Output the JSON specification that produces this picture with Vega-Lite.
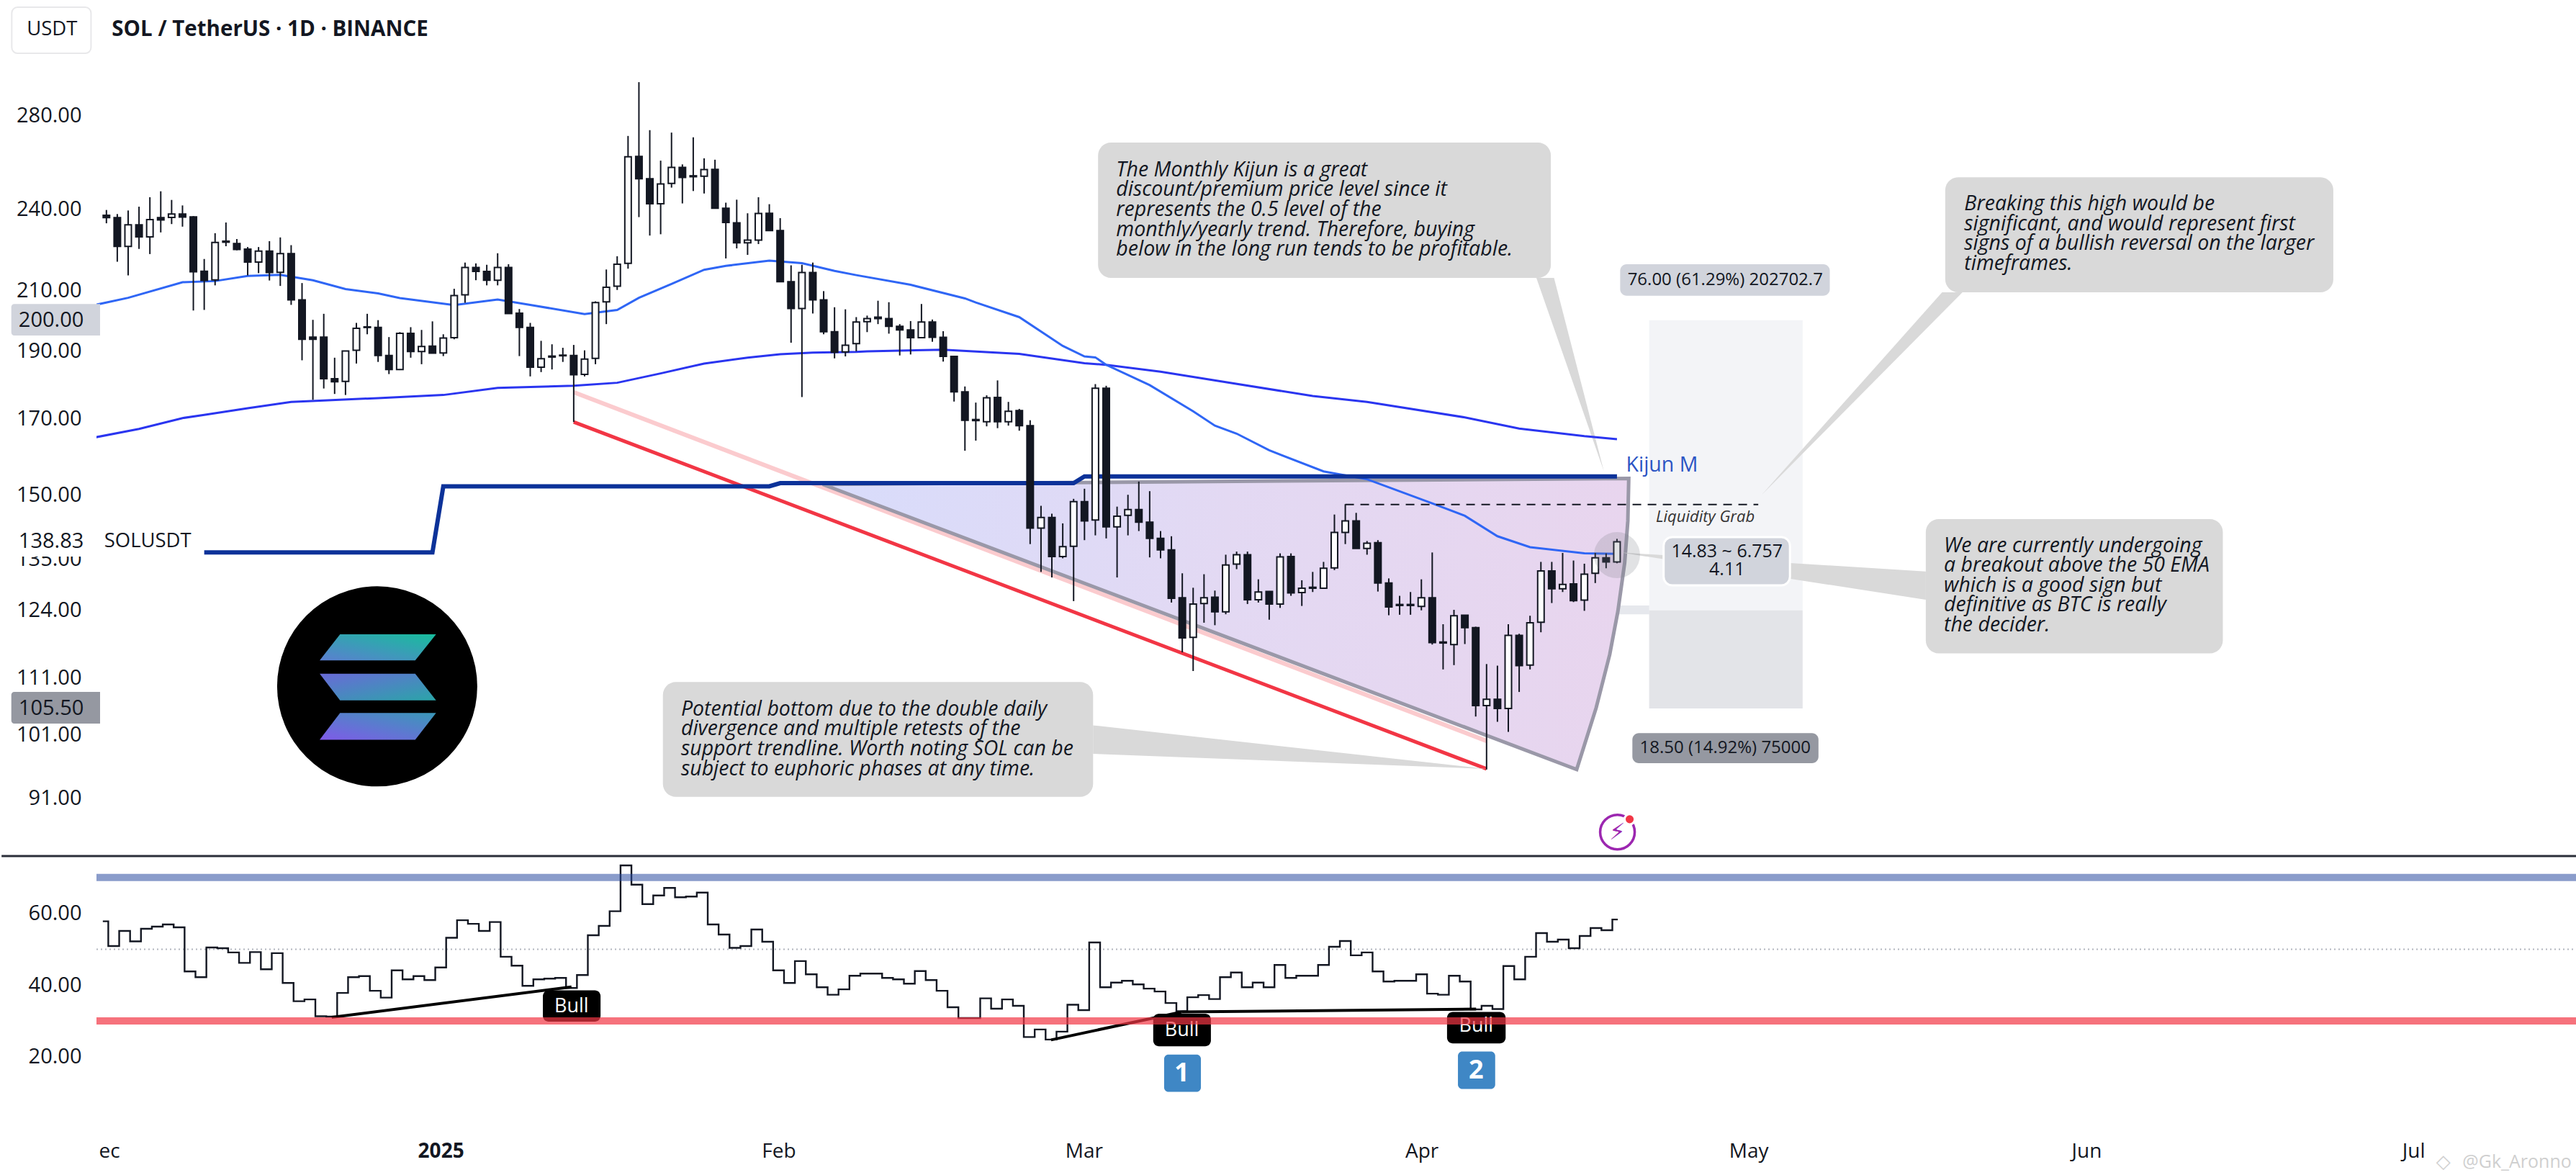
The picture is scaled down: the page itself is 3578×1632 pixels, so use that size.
{"$schema":"https://vega.github.io/schema/vega-lite/v6.json","padding":0,"spacing":0,"background":"white","config":{"view":{"stroke":null},"text":{"font":"Open Sans","color":"#131722"},"axis":{"labelFont":"Open Sans","labelColor":"#131722"}},
"datasets":{
"candles":[
{"d":"2024-12-01","o":237.7,"p":239.8,"p2":234.6,"c":236.8},{"d":"2024-12-02","o":236.8,"p":238.2,"p2":220.2,"c":225.8},{"d":"2024-12-03","o":225.8,"p":239.6,"p2":215.3,"c":234.0},{"d":"2024-12-04","o":234.0,"p":241.1,"p2":224.9,"c":229.4},{"d":"2024-12-05","o":229.4,"p":244.9,"p2":223.0,"c":236.0},{"d":"2024-12-06","o":236.8,"p":247.3,"p2":231.1,"c":235.9},{"d":"2024-12-07","o":236.9,"p":243.8,"p2":234.3,"c":238.2},{"d":"2024-12-08","o":238.2,"p":241.6,"p2":233.3,"c":237.0},{"d":"2024-12-09","o":237.1,"p":237.4,"p2":203.2,"c":216.6},{"d":"2024-12-10","o":216.8,"p":221.2,"p2":203.4,"c":213.5},
{"d":"2024-12-11","o":213.7,"p":230.8,"p2":211.8,"c":227.3},{"d":"2024-12-12","o":227.8,"p":234.9,"p2":225.9,"c":227.4},{"d":"2024-12-13","o":226.9,"p":228.6,"p2":224.4,"c":224.7},{"d":"2024-12-14","o":224.8,"p":225.6,"p2":215.3,"c":220.1},{"d":"2024-12-15","o":220.1,"p":225.6,"p2":216.1,"c":224.1},{"d":"2024-12-16","o":224.1,"p":227.8,"p2":213.5,"c":216.3},{"d":"2024-12-17","o":216.4,"p":229.2,"p2":211.6,"c":223.2},{"d":"2024-12-18","o":223.2,"p":226.3,"p2":205.1,"c":206.8},{"d":"2024-12-19","o":206.8,"p":212.6,"p2":187.2,"c":193.8},{"d":"2024-12-20","o":194.5,"p":200.1,"p2":175.4,"c":193.8},
{"d":"2024-12-21","o":194.5,"p":202.1,"p2":178.7,"c":181.6},{"d":"2024-12-22","o":181.6,"p":188.0,"p2":177.1,"c":180.7},{"d":"2024-12-23","o":180.8,"p":190.2,"p2":176.8,"c":190.1},{"d":"2024-12-24","o":190.3,"p":199.1,"p2":186.2,"c":197.3},{"d":"2024-12-25","o":197.8,"p":202.1,"p2":195.4,"c":197.6},{"d":"2024-12-26","o":197.6,"p":200.0,"p2":186.7,"c":188.7},{"d":"2024-12-27","o":188.7,"p":194.5,"p2":183.0,"c":184.4},{"d":"2024-12-28","o":184.4,"p":196.1,"p2":184.2,"c":195.7},{"d":"2024-12-29","o":195.7,"p":197.7,"p2":188.0,"c":189.9},{"d":"2024-12-30","o":189.9,"p":196.8,"p2":186.0,"c":191.5},{"d":"2024-12-31","o":191.6,"p":199.6,"p2":189.4,"c":189.4},
{"d":"2025-01-01","o":189.5,"p":195.4,"p2":188.5,"c":194.2},{"d":"2025-01-02","o":194.3,"p":210.6,"p2":193.8,"c":208.3},{"d":"2025-01-03","o":208.5,"p":219.9,"p2":205.8,"c":218.1},{"d":"2025-01-04","o":218.1,"p":219.6,"p2":213.6,"c":216.7},{"d":"2025-01-05","o":216.7,"p":219.1,"p2":211.8,"c":213.6},{"d":"2025-01-06","o":213.6,"p":223.3,"p2":211.8,"c":218.1},{"d":"2025-01-07","o":218.1,"p":219.3,"p2":202.1,"c":202.2},{"d":"2025-01-08","o":202.3,"p":203.7,"p2":188.5,"c":197.6},{"d":"2025-01-09","o":197.6,"p":199.1,"p2":182.3,"c":185.1},{"d":"2025-01-10","o":185.1,"p":193.3,"p2":183.6,"c":187.7},
{"d":"2025-01-11","o":188.2,"p":192.2,"p2":184.4,"c":188.5},{"d":"2025-01-12","o":188.8,"p":191.1,"p2":186.7,"c":188.6},{"d":"2025-01-13","o":188.7,"p":192.0,"p2":169.1,"c":182.8},{"d":"2025-01-14","o":182.9,"p":190.3,"p2":182.3,"c":187.6},{"d":"2025-01-15","o":187.8,"p":206.3,"p2":186.0,"c":205.9},{"d":"2025-01-16","o":206.1,"p":217.4,"p2":198.7,"c":211.1},{"d":"2025-01-17","o":211.5,"p":222.2,"p2":210.2,"c":219.3},{"d":"2025-01-18","o":219.6,"p":270.9,"p2":217.7,"c":261.8},{"d":"2025-01-19","o":261.9,"p":296.0,"p2":237.0,"c":252.5},{"d":"2025-01-20","o":252.5,"p":273.5,"p2":229.9,"c":242.3},
{"d":"2025-01-21","o":242.3,"p":260.1,"p2":230.4,"c":250.3},{"d":"2025-01-22","o":250.5,"p":272.4,"p2":248.8,"c":257.2},{"d":"2025-01-23","o":257.2,"p":258.5,"p2":242.4,"c":253.0},{"d":"2025-01-24","o":253.7,"p":270.3,"p2":247.4,"c":253.3},{"d":"2025-01-25","o":253.5,"p":261.1,"p2":246.4,"c":256.3},{"d":"2025-01-26","o":256.4,"p":260.5,"p2":240.4,"c":240.5},{"d":"2025-01-27","o":240.5,"p":242.7,"p2":221.4,"c":234.9},{"d":"2025-01-28","o":234.8,"p":243.9,"p2":225.1,"c":227.2},{"d":"2025-01-29","o":227.2,"p":238.5,"p2":222.7,"c":228.2},{"d":"2025-01-30","o":228.2,"p":244.9,"p2":226.7,"c":238.4},{"d":"2025-01-31","o":238.5,"p":242.1,"p2":231.8,"c":231.8},
{"d":"2025-02-01","o":231.8,"p":236.6,"p2":213.1,"c":213.1},{"d":"2025-02-02","o":213.1,"p":218.9,"p2":192.7,"c":203.9},{"d":"2025-02-03","o":203.9,"p":219.1,"p2":176.2,"c":216.3},{"d":"2025-02-04","o":216.3,"p":219.9,"p2":202.2,"c":206.8},{"d":"2025-02-05","o":206.8,"p":209.8,"p2":195.4,"c":196.2},{"d":"2025-02-06","o":196.2,"p":204.3,"p2":187.8,"c":189.7},{"d":"2025-02-07","o":189.8,"p":203.6,"p2":188.4,"c":191.9},{"d":"2025-02-08","o":192.4,"p":201.0,"p2":190.0,"c":199.4},{"d":"2025-02-09","o":199.5,"p":201.5,"p2":196.1,"c":200.5},{"d":"2025-02-10","o":201.0,"p":206.5,"p2":198.7,"c":200.5},
{"d":"2025-02-11","o":200.5,"p":206.0,"p2":195.6,"c":198.0},{"d":"2025-02-12","o":198.0,"p":198.7,"p2":188.7,"c":196.8},{"d":"2025-02-13","o":196.8,"p":199.7,"p2":189.0,"c":194.3},{"d":"2025-02-14","o":194.3,"p":205.4,"p2":194.3,"c":199.4},{"d":"2025-02-15","o":199.4,"p":200.2,"p2":193.0,"c":194.4},{"d":"2025-02-16","o":194.4,"p":196.4,"p2":186.8,"c":188.4},{"d":"2025-02-17","o":188.4,"p":188.4,"p2":174.9,"c":177.7},{"d":"2025-02-18","o":177.7,"p":179.3,"p2":161.3,"c":169.6},{"d":"2025-02-19","o":169.8,"p":174.6,"p2":164.0,"c":169.5},{"d":"2025-02-20","o":169.2,"p":176.7,"p2":167.9,"c":176.0},
{"d":"2025-02-21","o":176.1,"p":181.1,"p2":167.4,"c":169.2},{"d":"2025-02-22","o":169.2,"p":174.8,"p2":168.1,"c":172.1},{"d":"2025-02-23","o":172.3,"p":172.8,"p2":166.7,"c":168.1},{"d":"2025-02-24","o":168.1,"p":169.6,"p2":138.3,"c":142.0},{"d":"2025-02-25","o":142.0,"p":147.3,"p2":132.1,"c":144.5},{"d":"2025-02-26","o":144.5,"p":145.4,"p2":130.9,"c":135.5},{"d":"2025-02-27","o":135.5,"p":143.1,"p2":135.1,"c":137.7},{"d":"2025-02-28","o":137.8,"p":149.0,"p2":125.9,"c":148.3},
{"d":"2025-03-01","o":148.3,"p":151.5,"p2":139.2,"c":143.7},{"d":"2025-03-02","o":143.9,"p":180.0,"p2":140.3,"c":178.8},{"d":"2025-03-03","o":178.8,"p":179.5,"p2":139.6,"c":142.3},{"d":"2025-03-04","o":142.3,"p":147.1,"p2":130.9,"c":144.8},{"d":"2025-03-05","o":145.0,"p":150.0,"p2":140.3,"c":146.4},{"d":"2025-03-06","o":146.4,"p":153.3,"p2":141.3,"c":143.4},{"d":"2025-03-07","o":143.4,"p":150.9,"p2":135.3,"c":139.6},{"d":"2025-03-08","o":139.6,"p":141.3,"p2":135.1,"c":137.0},{"d":"2025-03-09","o":137.0,"p":140.1,"p2":125.6,"c":126.5},{"d":"2025-03-10","o":126.6,"p":131.8,"p2":115.7,"c":118.5},
{"d":"2025-03-11","o":118.6,"p":128.7,"p2":112.2,"c":125.3},{"d":"2025-03-12","o":125.4,"p":131.6,"p2":121.5,"c":126.6},{"d":"2025-03-13","o":126.7,"p":128.1,"p2":121.0,"c":123.7},{"d":"2025-03-14","o":123.7,"p":135.9,"p2":123.2,"c":133.6},{"d":"2025-03-15","o":133.8,"p":136.6,"p2":132.7,"c":135.9},{"d":"2025-03-16","o":135.9,"p":136.6,"p2":125.3,"c":126.2},{"d":"2025-03-17","o":126.2,"p":130.5,"p2":125.6,"c":127.8},{"d":"2025-03-18","o":127.9,"p":128.0,"p2":122.1,"c":125.3},{"d":"2025-03-19","o":125.3,"p":136.2,"p2":124.5,"c":135.4},{"d":"2025-03-20","o":135.5,"p":136.2,"p2":127.0,"c":127.6},
{"d":"2025-03-21","o":127.7,"p":130.3,"p2":124.9,"c":128.6},{"d":"2025-03-22","o":128.8,"p":132.1,"p2":127.8,"c":128.6},{"d":"2025-03-23","o":128.6,"p":134.3,"p2":128.5,"c":132.9},{"d":"2025-03-24","o":133.0,"p":145.2,"p2":132.5,"c":141.0},{"d":"2025-03-25","o":141.0,"p":147.7,"p2":138.3,"c":143.7},{"d":"2025-03-26","o":143.7,"p":145.6,"p2":137.3,"c":137.3},{"d":"2025-03-27","o":137.3,"p":139.0,"p2":135.9,"c":138.5},{"d":"2025-03-28","o":138.6,"p":139.2,"p2":127.9,"c":129.7},{"d":"2025-03-29","o":129.7,"p":130.7,"p2":123.0,"c":124.7},{"d":"2025-03-30","o":125.2,"p":127.0,"p2":123.1,"c":125.0},{"d":"2025-03-31","o":125.0,"p":127.8,"p2":123.1,"c":125.2},
{"d":"2025-04-01","o":124.8,"p":130.5,"p2":124.0,"c":126.6},{"d":"2025-04-02","o":126.6,"p":136.4,"p2":117.2,"c":117.6},{"d":"2025-04-03","o":117.7,"p":121.2,"p2":112.5,"c":117.5},{"d":"2025-04-04","o":117.2,"p":124.1,"p2":113.3,"c":122.9},{"d":"2025-04-05","o":123.0,"p":123.0,"p2":117.3,"c":120.5},{"d":"2025-04-06","o":120.5,"p":120.7,"p2":104.1,"c":106.0},{"d":"2025-04-07","o":106.0,"p":113.5,"p2":95.4,"c":107.1},{"d":"2025-04-08","o":107.1,"p":113.2,"p2":103.2,"c":105.5},{"d":"2025-04-09","o":105.5,"p":121.2,"p2":101.5,"c":119.0},{"d":"2025-04-10","o":119.0,"p":119.3,"p2":108.4,"c":113.2},
{"d":"2025-04-11","o":113.3,"p":122.9,"p2":112.5,"c":121.5},{"d":"2025-04-12","o":121.6,"p":134.3,"p2":119.6,"c":132.3},{"d":"2025-04-13","o":132.3,"p":134.3,"p2":125.5,"c":128.5},{"d":"2025-04-14","o":128.5,"p":136.3,"p2":127.8,"c":129.4},{"d":"2025-04-15","o":129.5,"p":134.6,"p2":125.7,"c":126.0},{"d":"2025-04-16","o":126.1,"p":133.9,"p2":123.9,"c":131.6},{"d":"2025-04-17","o":131.8,"p":136.3,"p2":129.7,"c":135.2},{"d":"2025-04-18","o":135.2,"p":136.2,"p2":132.9,"c":134.3},{"d":"2025-04-19","o":134.3,"p":139.5,"p2":134.0,"c":138.83}],
"ema50":[{"d":"2024-11-30","p":205.1},{"d":"2024-12-03","p":207.5},{"d":"2024-12-08","p":212.9},{"d":"2024-12-11","p":213.3},{"d":"2024-12-14","p":215.1},{"d":"2024-12-17","p":215.5},{"d":"2024-12-20","p":213.6},{"d":"2024-12-23","p":210.5},{"d":"2024-12-26","p":209.0},{"d":"2024-12-28","p":207.4},{"d":"2025-01-02","p":205.0},{"d":"2025-01-06","p":206.9},{"d":"2025-01-09","p":205.1},{"d":"2025-01-14","p":202.0},{"d":"2025-01-17","p":203.4},{"d":"2025-01-19","p":207.5},{"d":"2025-01-22","p":212.3},{"d":"2025-01-25","p":217.3},{"d":"2025-01-27","p":218.7},{"d":"2025-01-31","p":220.6},{"d":"2025-02-03","p":219.7},{"d":"2025-02-06","p":216.9},{"d":"2025-02-08","p":215.4},{"d":"2025-02-13","p":212.0},{"d":"2025-02-18","p":207.3},{"d":"2025-02-19","p":205.9},{"d":"2025-02-23","p":201.0},{"d":"2025-02-27","p":191.7},{"d":"2025-03-01","p":188.4},{"d":"2025-03-02","p":188.1},{"d":"2025-03-03","p":185.8},{"d":"2025-03-07","p":179.7},{"d":"2025-03-11","p":172.1},{"d":"2025-03-13","p":168.1},{"d":"2025-03-15","p":165.9},{"d":"2025-03-18","p":161.4},{"d":"2025-03-23","p":155.9},{"d":"2025-03-27","p":153.9},{"d":"2025-04-02","p":147.9},{"d":"2025-04-05","p":144.9},{"d":"2025-04-08","p":140.1},{"d":"2025-04-11","p":137.6},{"d":"2025-04-16","p":136.2},{"d":"2025-04-19","p":136.1}],
"ema200":[{"d":"2024-11-30","p":164.9},{"d":"2024-12-04","p":167.2},{"d":"2024-12-08","p":170.2},{"d":"2024-12-10","p":171.1},{"d":"2024-12-14","p":173.0},{"d":"2024-12-18","p":174.8},{"d":"2024-12-21","p":175.2},{"d":"2024-12-26","p":175.9},{"d":"2025-01-01","p":176.8},{"d":"2025-01-06","p":178.9},{"d":"2025-01-13","p":179.5},{"d":"2025-01-17","p":180.4},{"d":"2025-01-21","p":183.2},{"d":"2025-01-25","p":186.2},{"d":"2025-01-29","p":188.0},{"d":"2025-02-01","p":189.1},{"d":"2025-02-04","p":189.6},{"d":"2025-02-08","p":189.8},{"d":"2025-02-09","p":190.0},{"d":"2025-02-16","p":190.5},{"d":"2025-02-23","p":189.2},{"d":"2025-03-01","p":186.3},{"d":"2025-03-03","p":185.8},{"d":"2025-03-08","p":183.7},{"d":"2025-03-14","p":180.6},{"d":"2025-03-22","p":176.5},{"d":"2025-03-27","p":174.8},{"d":"2025-04-05","p":170.4},{"d":"2025-04-10","p":167.3},{"d":"2025-04-16","p":165.2},{"d":"2025-04-19","p":164.4}],
"kijun":[{"d":"2024-12-10","p":136.4},{"d":"2024-12-31","p":136.4},{"d":"2025-01-01","p":152.1},{"d":"2025-01-31","p":152.1},{"d":"2025-02-01","p":152.9},{"d":"2025-02-28","p":152.9},{"d":"2025-03-01","p":154.6},{"d":"2025-04-19","p":154.6}],
"red":[{"d":"2025-01-13","p":169.1},{"d":"2025-04-07","p":95.5}],
"pink":[{"d":"2025-01-13","p":177.6},{"d":"2025-04-07","p":100.0}],
"shape":[{"d":"2025-02-04T22:00:00Z","p":152.6,"p2":152.6},{"d":"2025-04-15T07:00:00Z","p":154.0,"p2":95.4},{"d":"2025-04-17T02:00:00Z","p":154.0,"p2":105.6},{"d":"2025-04-18T08:00:00Z","p":154.0,"p2":115.3},{"d":"2025-04-19T02:00:00Z","p":154.1,"p2":123.8},{"d":"2025-04-19T17:00:00Z","p":154.1,"p2":134.1},{"d":"2025-04-20T00:00:00Z","p":154.1,"p2":143.7},{"d":"2025-04-20T02:00:00Z","p":154.1,"p2":154.1}],
"outline":[{"n":1,"d":"2025-02-04T22:00:00Z","p":152.6},{"n":2,"d":"2025-04-20T02:00:00Z","p":154.1},{"n":3,"d":"2025-04-20T00:00:00Z","p":143.7},{"n":4,"d":"2025-04-19T17:00:00Z","p":134.1},{"n":5,"d":"2025-04-19T02:00:00Z","p":123.8},{"n":6,"d":"2025-04-18T08:00:00Z","p":115.3},{"n":7,"d":"2025-04-17T02:00:00Z","p":105.6},{"n":8,"d":"2025-04-15T07:00:00Z","p":95.4},{"n":9,"d":"2025-02-04T22:00:00Z","p":152.6}],
"tailsV":[{"k":"C","d":"2025-04-19T07:00:00Z","p":136.4,"p2":136.4},{"k":"C","d":"2025-05-17T10:00:00Z","p":132.2,"p2":126.2},{"k":"D","d":"2025-03-01T19:00:00Z","p":102.6,"p2":97.9},{"k":"D","d":"2025-04-07","p":95.5,"p2":95.5}],
"tailsH":[{"k":"A","p":214.4,"d":"2025-04-11T14:00:00Z","d2":"2025-04-13T05:00:00Z"},{"k":"A","p":156.0,"d":"2025-04-17T19:00:00Z","d2":"2025-04-17T19:00:00Z"},{"k":"B","p":209.4,"d":"2025-05-18T22:00:00Z","d2":"2025-05-20T19:00:00Z"},{"k":"B","p":149.9,"d":"2025-05-02T07:00:00Z","d2":"2025-05-02T07:00:00Z"}],
"notes":[{"d":"2025-03-02T06:00:00Z","d2":"2025-04-12T22:00:00Z","p":268.0,"p2":214.4},{"d":"2025-05-19T05:00:00Z","d2":"2025-06-23T22:00:00Z","p":253.1,"p2":209.4},{"d":"2025-05-17T10:00:00Z","d2":"2025-06-13T18:00:00Z","p":144.1,"p2":115.5},{"d":"2025-01-21T05:00:00Z","d2":"2025-03-01T19:00:00Z","p":110.2,"p2":91.2}],
"noteText":[{"d":"2025-03-03T22:00:00Z","p":256.2,"t":"The Monthly Kijun is a great\ndiscount/premium price level since it\nrepresents the 0.5 level of the\nmonthly/yearly trend. Therefore, buying\nbelow in the long run tends to be profitable."},{"d":"2025-05-20T23:00:00Z","p":242.3,"t":"Breaking this high would be\nsignificant, and would represent first\nsigns of a bullish reversal on the larger\ntimeframes."},{"d":"2025-05-19T02:00:00Z","p":138.0,"t":"We are currently undergoing\na breakout above the 50 EMA\nwhich is a good sign but\ndefinitive as BTC is really\nthe decider."},{"d":"2025-01-22T21:00:00Z","p":105.4,"t":"Potential bottom due to the double daily\ndivergence and multiple retests of the\nsupport trendline. Worth noting SOL can be\nsubject to euphoric phases at any time."}],
"logoBars":[{"k":1,"p":119.2,"d":"2024-12-22T12:00:00Z","d2":"2024-12-31T08:00:00Z"},{"k":1,"p":114.2,"d":"2024-12-20T15:00:00Z","d2":"2024-12-29T10:00:00Z"},{"k":2,"p":111.7,"d":"2024-12-20T15:00:00Z","d2":"2024-12-29T10:00:00Z"},{"k":2,"p":106.9,"d":"2024-12-22T12:00:00Z","d2":"2024-12-31T08:00:00Z"},{"k":3,"p":104.7,"d":"2024-12-22T12:00:00Z","d2":"2024-12-31T08:00:00Z"},{"k":3,"p":100.2,"d":"2024-12-20T15:00:00Z","d2":"2024-12-29T10:00:00Z"}],
"rsi":[
{"d":"2024-12-01","p":57.8},{"d":"2024-12-02","p":50.9},{"d":"2024-12-03","p":55.1},{"d":"2024-12-04","p":52.2},{"d":"2024-12-05","p":55.7},{"d":"2024-12-06","p":56.3},{"d":"2024-12-07","p":56.9},{"d":"2024-12-08","p":56.1},{"d":"2024-12-09","p":43.8},{"d":"2024-12-10","p":42.2},{"d":"2024-12-11","p":50.5},{"d":"2024-12-12","p":50.3},{"d":"2024-12-13","p":49.1},{"d":"2024-12-14","p":46.2},{"d":"2024-12-15","p":49.2},{"d":"2024-12-16","p":44.4},{"d":"2024-12-17","p":48.9},{"d":"2024-12-18","p":40.6},{"d":"2024-12-19","p":35.5},{"d":"2024-12-20","p":36.0},{"d":"2024-12-21","p":31.3},{"d":"2024-12-22","p":31.2},{"d":"2024-12-23","p":37.8},{"d":"2024-12-24","p":42.2},{"d":"2024-12-25","p":42.5},{"d":"2024-12-26","p":38.4},{"d":"2024-12-27","p":36.5},{"d":"2024-12-28","p":44.1},{"d":"2024-12-29","p":41.6},{"d":"2024-12-30","p":42.5},{"d":"2024-12-31","p":41.4},
{"d":"2025-01-01","p":44.9},{"d":"2025-01-02","p":53.2},{"d":"2025-01-03","p":58.1},{"d":"2025-01-04","p":57.1},{"d":"2025-01-05","p":55.1},{"d":"2025-01-06","p":57.6},{"d":"2025-01-07","p":47.9},{"d":"2025-01-08","p":45.4},{"d":"2025-01-09","p":39.8},{"d":"2025-01-10","p":41.6},{"d":"2025-01-11","p":41.8},{"d":"2025-01-12","p":42.0},{"d":"2025-01-13","p":39.2},{"d":"2025-01-14","p":42.8},{"d":"2025-01-15","p":53.9},{"d":"2025-01-16","p":56.5},{"d":"2025-01-17","p":60.6},{"d":"2025-01-18","p":73.4},{"d":"2025-01-19","p":68.0},{"d":"2025-01-20","p":62.6},{"d":"2025-01-21","p":65.0},{"d":"2025-01-22","p":67.1},{"d":"2025-01-23","p":64.5},{"d":"2025-01-24","p":64.7},{"d":"2025-01-25","p":65.8},{"d":"2025-01-26","p":56.9},{"d":"2025-01-27","p":54.1},{"d":"2025-01-28","p":50.4},{"d":"2025-01-29","p":50.9},{"d":"2025-01-30","p":55.5},{"d":"2025-01-31","p":52.1},
{"d":"2025-02-01","p":44.1},{"d":"2025-02-02","p":40.6},{"d":"2025-02-03","p":46.7},{"d":"2025-02-04","p":43.0},{"d":"2025-02-05","p":39.4},{"d":"2025-02-06","p":37.3},{"d":"2025-02-07","p":38.8},{"d":"2025-02-08","p":42.6},{"d":"2025-02-09","p":43.2},{"d":"2025-02-10","p":43.2},{"d":"2025-02-11","p":42.0},{"d":"2025-02-12","p":41.6},{"d":"2025-02-13","p":40.4},{"d":"2025-02-14","p":43.9},{"d":"2025-02-15","p":41.4},{"d":"2025-02-16","p":38.4},{"d":"2025-02-17","p":33.8},{"d":"2025-02-18","p":30.8},{"d":"2025-02-19","p":30.8},{"d":"2025-02-20","p":36.3},{"d":"2025-02-21","p":33.4},{"d":"2025-02-22","p":36.0},{"d":"2025-02-23","p":34.2},{"d":"2025-02-24","p":25.5},{"d":"2025-02-25","p":27.6},{"d":"2025-02-26","p":24.8},{"d":"2025-02-27","p":27.0},{"d":"2025-02-28","p":34.5},
{"d":"2025-03-01","p":33.0},{"d":"2025-03-02","p":51.9},{"d":"2025-03-03","p":39.4},{"d":"2025-03-04","p":40.7},{"d":"2025-03-05","p":41.2},{"d":"2025-03-06","p":40.2},{"d":"2025-03-07","p":39.0},{"d":"2025-03-08","p":38.2},{"d":"2025-03-09","p":35.0},{"d":"2025-03-10","p":32.7},{"d":"2025-03-11","p":36.6},{"d":"2025-03-12","p":37.2},{"d":"2025-03-13","p":36.1},{"d":"2025-03-14","p":42.2},{"d":"2025-03-15","p":43.5},{"d":"2025-03-16","p":39.4},{"d":"2025-03-17","p":40.7},{"d":"2025-03-18","p":39.4},{"d":"2025-03-19","p":45.6},{"d":"2025-03-20","p":42.0},{"d":"2025-03-21","p":42.6},{"d":"2025-03-22","p":42.6},{"d":"2025-03-23","p":45.6},{"d":"2025-03-24","p":50.7},{"d":"2025-03-25","p":52.3},{"d":"2025-03-26","p":48.3},{"d":"2025-03-27","p":49.1},{"d":"2025-03-28","p":43.8},{"d":"2025-03-29","p":41.0},{"d":"2025-03-30","p":41.2},{"d":"2025-03-31","p":41.2},
{"d":"2025-04-01","p":43.0},{"d":"2025-04-02","p":37.6},{"d":"2025-04-03","p":37.3},{"d":"2025-04-04","p":42.6},{"d":"2025-04-05","p":41.0},{"d":"2025-04-06","p":33.2},{"d":"2025-04-07","p":34.2},{"d":"2025-04-08","p":33.3},{"d":"2025-04-09","p":45.3},{"d":"2025-04-10","p":41.6},{"d":"2025-04-11","p":47.9},{"d":"2025-04-12","p":54.5},{"d":"2025-04-13","p":52.1},{"d":"2025-04-14","p":52.7},{"d":"2025-04-15","p":50.3},{"d":"2025-04-16","p":53.7},{"d":"2025-04-17","p":55.9},{"d":"2025-04-18","p":55.3},{"d":"2025-04-19","p":58.3}]
},
"vconcat":[
{"width":3444,"height":1187,
"encoding":{"x":{"field":"d","type":"temporal","title":null,"scale":{"type":"utc","domain":["2024-11-30T10:00:00Z","2025-07-15T22:00:00Z"]},"axis":null},
"y":{"field":"p","type":"quantitative","title":null,"scale":{"type":"log","domain":[82.92,338.9]},"axis":{"values":[91,101,111,124,135,150,170,190,210,240,280],"format":".2f","grid":false,"ticks":false,"domain":false,"labelFontSize":29,"labelPadding":21,"minExtent":134,"maxExtent":134,"labelOverlap":false,"labelBound":false,"labelFlush":false}}},
"layer":[
{"data":{"values":[{"d":"2025-04-21T23:00:00Z","d2":"2025-05-06T02:00:00Z","p":200,"p2":124}]},"mark":{"type":"rect","color":"#f3f4f7"},"encoding":{"x2":{"field":"d2"},"y2":{"field":"p2"}}},
{"data":{"values":[{"d":"2025-04-21T23:00:00Z","d2":"2025-05-06T02:00:00Z","p":124,"p2":105.5}]},"mark":{"type":"rect","color":"#e3e4e8"},"encoding":{"x2":{"field":"d2"},"y2":{"field":"p2"}}},
{"data":{"values":[{"d":"2025-04-11T00:00:00Z","d2":"2025-04-21T23:00:00Z","p":125.0,"p2":123.2}]},"mark":{"type":"rect","color":"#c8ccd6","opacity":0.45},"encoding":{"x2":{"field":"d2"},"y2":{"field":"p2"}}},
{"data":{"name":"shape"},"mark":{"type":"area","color":{"gradient":"linear","x1":0,"x2":1,"y1":0,"y2":0,"stops":[{"offset":0,"color":"#d8dcfb"},{"offset":0.5,"color":"#e3d9f3"},{"offset":1,"color":"#e8d5ee"}]}},"encoding":{"y2":{"field":"p2"}}},
{"data":{"name":"pink"},"mark":{"type":"line","color":"#fbcbce","strokeWidth":6}},
{"data":{"name":"outline"},"mark":{"type":"line","color":"#9a98a8","strokeWidth":5},"encoding":{"order":{"field":"n","type":"quantitative"}}},
{"data":{"name":"red"},"mark":{"type":"line","color":"#f23645","strokeWidth":5}},
{"data":{"name":"tailsV"},"mark":{"type":"area","color":"#d9d9d9"},"encoding":{"y2":{"field":"p2"},"detail":{"field":"k"}}},
{"data":{"name":"tailsH"},"transform":[{"filter":"datum.k=='A'"}],"mark":{"type":"area","color":"#d9d9d9","orient":"horizontal"},"encoding":{"x2":{"field":"d2"}}},
{"data":{"name":"tailsH"},"transform":[{"filter":"datum.k=='B'"}],"mark":{"type":"area","color":"#d9d9d9","orient":"horizontal"},"encoding":{"x2":{"field":"d2"}}},
{"data":{"name":"ema200"},"mark":{"type":"line","color":"#2a35f0","strokeWidth":3,"clip":true}},
{"data":{"name":"ema50"},"mark":{"type":"line","color":"#2f66f5","strokeWidth":3,"clip":true}},
{"data":{"name":"kijun"},"mark":{"type":"line","color":"#0c3299","strokeWidth":6}},
{"data":{"name":"candles"},"mark":{"type":"rule","color":"#131722","strokeWidth":2},"encoding":{"y2":{"field":"p2"}}},
{"data":{"name":"candles"},"mark":{"type":"bar","size":9,"stroke":"#131722","strokeWidth":2},"encoding":{"y":{"field":"o","type":"quantitative","title":null,"scale":{"type":"log","domain":[82.92,338.9]},"axis":{"values":[91,101,111,124,135,150,170,190,210,240,280],"format":".2f","grid":false,"ticks":false,"domain":false,"labelFontSize":29,"labelPadding":21,"minExtent":134,"maxExtent":134,"labelOverlap":false,"labelBound":false,"labelFlush":false}},"y2":{"field":"c"},"color":{"condition":{"test":"datum.c>=datum.o","value":"#ffffff"},"value":"#131722"}}},
{"data":{"values":[{"d":"2025-03-25","d2":"2025-05-02","p":147.6}]},"mark":{"type":"rule","color":"#131722","strokeWidth":2,"strokeDash":[12,9]},"encoding":{"x2":{"field":"d2"}}},
{"data":{"values":[{"d":"2025-04-19","p":135.8}]},"mark":{"type":"point","shape":"circle","filled":true,"size":4096,"color":"#787b86","opacity":0.22}},
{"data":{"name":"notes"},"mark":{"type":"rect","color":"#d9d9d9","cornerRadius":18},"encoding":{"x2":{"field":"d2"},"y2":{"field":"p2"}}},
{"data":{"name":"noteText"},"mark":{"type":"text","align":"left","baseline":"middle","fontStyle":"italic","fontSize":28.5,"lineBreak":"\n","lineHeight":27.6},"encoding":{"text":{"field":"t"}}},
{"data":{"values":[{"d":"2025-04-19T07:00:00Z","d2":"2025-05-08T14:00:00Z","p":219.3,"p2":208.2},{"d":"2025-04-20T10:00:00Z","d2":"2025-05-07T13:00:00Z","p":101.3,"p2":96.4,"dark":1}]},"mark":{"type":"rect","cornerRadius":9},"encoding":{"x2":{"field":"d2"},"y2":{"field":"p2"},"color":{"condition":{"test":"datum.dark==1","value":"#9598a1"},"value":"#d1d4dc"}}},
{"data":{"values":[{"d":"2025-04-28T23:00:00Z","p":213.7,"t":"76.00 (61.29%) 202702.7"},{"d":"2025-04-28T23:00:00Z","p":98.8,"t":"18.50 (14.92%) 75000"}]},"mark":{"type":"text","fontSize":24},"encoding":{"text":{"field":"t"}}},
{"data":{"values":[{"d":"2025-04-23T07:00:00Z","d2":"2025-05-04T22:00:00Z","p":139.9,"p2":129.2}]},"mark":{"type":"rect","color":"#d1d4dc","cornerRadius":12,"stroke":"#ffffff","strokeWidth":3},"encoding":{"x2":{"field":"d2"},"y2":{"field":"p2"}}},
{"data":{"values":[{"d":"2025-04-29T03:00:00Z","p":136.6,"t":"14.83 ~ 6.757\n4.11"}]},"mark":{"type":"text","fontSize":25,"baseline":"middle","lineBreak":"\n","lineHeight":25},"encoding":{"text":{"field":"t"}}},
{"data":{"values":[{"d":"2025-04-27T03:00:00Z","p":144.6,"t":"Liquidity Grab"}]},"mark":{"type":"text","fontSize":22,"fontStyle":"italic","color":"#333333"},"encoding":{"text":{"field":"t"}}},
{"data":{"values":[{"d":"2025-04-19T20:00:00Z","p":157.6,"t":"Kijun M"}]},"mark":{"type":"text","align":"left","fontSize":28.5,"color":"#2c55c4"},"encoding":{"text":{"field":"t"}}},
{"data":{"values":[{"d":"2024-12-25T22:00:00Z","p":109.4}]},"mark":{"type":"point","shape":"circle","filled":true,"size":77284,"color":"#000000","opacity":1}},
{"data":{"name":"logoBars"},"transform":[{"filter":"datum.k==1"}],"mark":{"type":"area","orient":"horizontal","color":{"gradient":"linear","x1":0,"y1":1,"x2":1,"y2":0,"stops":[{"offset":0,"color":"#5b7fd0"},{"offset":1,"color":"#17bd9c"}]}},"encoding":{"x2":{"field":"d2"}}},
{"data":{"name":"logoBars"},"transform":[{"filter":"datum.k==2"}],"mark":{"type":"area","orient":"horizontal","color":{"gradient":"linear","x1":0,"y1":0,"x2":1,"y2":1,"stops":[{"offset":0,"color":"#6a6ad8"},{"offset":1,"color":"#2aa5a8"}]}},"encoding":{"x2":{"field":"d2"}}},
{"data":{"name":"logoBars"},"transform":[{"filter":"datum.k==3"}],"mark":{"type":"area","orient":"horizontal","color":{"gradient":"linear","x1":0,"y1":1,"x2":1,"y2":0,"stops":[{"offset":0,"color":"#7f5be8"},{"offset":1,"color":"#3a98b8"}]}},"encoding":{"x2":{"field":"d2"}}},
{"data":{"values":[{"d":"2024-11-22T06:00:00Z","d2":"2024-12-09T10:00:00Z","p":142.2,"p2":135.5}]},"mark":{"type":"rect","color":"#ffffff"},"encoding":{"x2":{"field":"d2"},"y2":{"field":"p2"}}},
{"data":{"values":[{"d":"2024-11-22T06:00:00Z","d2":"2024-11-30T10:00:00Z","p":205.4,"p2":195.0,"c":"#d1d4dc"},{"d":"2024-11-22T06:00:00Z","d2":"2024-11-30T10:00:00Z","p":108.4,"p2":102.9,"c":"#9598a1"}]},"mark":{"type":"rect","cornerRadiusTopLeft":4,"cornerRadiusBottomLeft":4},"encoding":{"x2":{"field":"d2"},"y2":{"field":"p2"},"color":{"field":"c","type":"nominal","scale":null}}},
{"data":{"values":[{"d":"2024-11-28T22:00:00Z","p":200,"t":"200.00"},{"d":"2024-11-28T22:00:00Z","p":105.5,"t":"105.50"},{"d":"2024-11-28T22:00:00Z","p":138.83,"t":"138.83"}]},"mark":{"type":"text","align":"right","fontSize":29},"encoding":{"text":{"field":"t"}}},
{"data":{"values":[{"d":"2024-11-30T19:00:00Z","p":138.83,"t":"SOLUSDT"}]},"mark":{"type":"text","align":"left","fontSize":27.5},"encoding":{"text":{"field":"t"}}},
{"data":{"values":[{"d":"2024-11-22T07:00:00Z","d2":"2024-11-29T14:00:00Z","p":334.9,"p2":310.4}]},"mark":{"type":"rect","color":"#ffffff","stroke":"#e8e8ea","strokeWidth":2,"cornerRadius":8},"encoding":{"x2":{"field":"d2"},"y2":{"field":"p2"}}},
{"data":{"values":[{"d":"2024-11-26","p":322.8,"t":"USDT"}]},"mark":{"type":"text","fontSize":27.5},"encoding":{"text":{"field":"t"}}},
{"data":{"values":[{"d":"2024-12-01T12:00:00Z","p":322.8,"t":"SOL / TetherUS · 1D · BINANCE"}]},"mark":{"type":"text","align":"left","fontSize":29.5,"fontWeight":"bold"},"encoding":{"text":{"field":"t"}}},
{"data":{"values":[{"d":"2025-04-19T01:00:00Z","p":86.05}]},"mark":{"type":"point","shape":"circle","filled":false,"size":2304,"color":"#9c27b0","strokeWidth":3.5,"opacity":1}},
{"data":{"values":[{"d":"2025-04-19T01:00:00Z","p":86.05,"t":"⚡"}]},"mark":{"type":"text","font":"DejaVu Sans","fontSize":32,"color":"#9c27b0"},"encoding":{"text":{"field":"t"}}},
{"data":{"values":[{"d":"2025-04-20T04:00:00Z","p":87.9}]},"mark":{"type":"point","shape":"circle","filled":true,"size":200,"color":"#f23645","stroke":"#ffffff","strokeWidth":3,"opacity":1}}
]},
{"width":3444,"height":445,
"encoding":{"x":{"field":"d","type":"temporal","title":null,"scale":{"type":"utc","domain":["2024-11-30T10:00:00Z","2025-07-15T22:00:00Z"]},"axis":{"values":[{"year":2024,"month":12,"date":1,"hours":14,"utc":true},{"year":2025,"month":1,"date":1,"utc":true},{"year":2025,"month":2,"date":1,"utc":true},{"year":2025,"month":3,"date":1,"utc":true},{"year":2025,"month":4,"date":1,"utc":true},{"year":2025,"month":5,"date":1,"utc":true},{"year":2025,"month":6,"date":1,"utc":true},{"year":2025,"month":7,"date":1,"utc":true}],"labelExpr":"utcmonth(datum.value)==11?'ec':(utcmonth(datum.value)==0?'2025':utcFormat(datum.value,'%b'))","labelFontWeight":{"condition":{"test":"utcmonth(datum.value)==0","value":"bold"},"value":"normal"},"labelFontSize":28,"labelPadding":-49,"ticks":false,"domain":false,"grid":false,"labelOverlap":false,"labelBound":false,"labelFlush":false,"minExtent":0,"maxExtent":0}},
"y":{"field":"p","type":"quantitative","title":null,"scale":{"domain":[-13.4,76]},"axis":{"values":[20,40,60],"format":".2f","grid":false,"ticks":false,"domain":false,"labelFontSize":29,"labelPadding":21,"minExtent":134,"maxExtent":134,"labelOverlap":false}}},
"layer":[
{"data":{"values":[{"d":"2024-11-30T10:00:00Z","d2":"2025-07-15T22:00:00Z","p":50}]},"mark":{"type":"rule","color":"#b2b5be","strokeWidth":2,"strokeDash":[2,4]},"encoding":{"x2":{"field":"d2"}}},
{"data":{"name":"rsi"},"mark":{"type":"line","color":"#131722","strokeWidth":2.4,"interpolate":"step"}},
{"data":{"values":[{"g":1,"d":"2024-12-22","p":31.0},{"g":1,"d":"2025-01-13","p":39.5},{"g":2,"d":"2025-02-26","p":24.7},{"g":2,"d":"2025-03-10","p":32.5},{"g":3,"d":"2025-03-10","p":32.5},{"g":3,"d":"2025-04-06","p":33.3}]},"mark":{"type":"line","color":"#000000","strokeWidth":4},"encoding":{"detail":{"field":"g"}}},
{"data":{"values":[{"d":"2025-01-10T09:00:00Z","d2":"2025-01-15T16:00:00Z","p":38.55,"p2":29.77},{"d":"2025-03-07T09:00:00Z","d2":"2025-03-12T16:00:00Z","p":32.0,"p2":22.9},{"d":"2025-04-03T08:00:00Z","d2":"2025-04-08T17:00:00Z","p":32.5,"p2":23.7}]},"mark":{"type":"rect","color":"#000000","cornerRadius":8},"encoding":{"x2":{"field":"d2"},"y2":{"field":"p2"}}},
{"data":{"values":[{"d":"2025-01-13","p":34.0,"t":"Bull"},{"d":"2025-03-10","p":27.4,"t":"Bull"},{"d":"2025-04-06","p":28.5,"t":"Bull"}]},"mark":{"type":"text","color":"#ffffff","fontSize":27},"encoding":{"text":{"field":"t"}}},
{"data":{"values":[{"d":"2025-03-08T09:00:00Z","d2":"2025-03-11T18:00:00Z","p":20.6,"p2":10.2},{"d":"2025-04-04T08:00:00Z","d2":"2025-04-07T18:00:00Z","p":21.45,"p2":11.0}]},"mark":{"type":"rect","color":"#3f87c5","cornerRadius":6},"encoding":{"x2":{"field":"d2"},"y2":{"field":"p2"}}},
{"data":{"values":[{"d":"2025-03-10","p":15.4,"t":"1"},{"d":"2025-04-06","p":16.2,"t":"2"}]},"mark":{"type":"text","color":"#ffffff","fontSize":36,"fontWeight":"bold"},"encoding":{"text":{"field":"t"}}},
{"data":{"values":[{"d":"2024-11-30T10:00:00Z","d2":"2025-07-15T22:00:00Z","p":70}]},"mark":{"type":"rule","color":"#2a4ba0","opacity":0.55,"strokeWidth":10},"encoding":{"x2":{"field":"d2"}}},
{"data":{"values":[{"d":"2024-11-30T10:00:00Z","d2":"2025-07-15T22:00:00Z","p":30}]},"mark":{"type":"rule","color":"#f23645","opacity":0.7,"strokeWidth":10},"encoding":{"x2":{"field":"d2"}}},
{"data":{"values":[{"d":"2024-11-21T17:00:00Z","d2":"2025-07-15T22:00:00Z","p":76}]},"mark":{"type":"rule","color":"#2a2e39","strokeWidth":3},"encoding":{"x2":{"field":"d2"}}},
{"data":{"values":[{"d":"2025-07-05T12:00:00Z","p":-9.3,"t":"@Gk_Aronno"}]},"mark":{"type":"text","align":"left","fontSize":25,"color":"#cfcfcf"},"encoding":{"text":{"field":"t"}}},
{"data":{"values":[{"d":"2025-07-03T18:00:00Z","p":-9.3,"t":"◇"}]},"mark":{"type":"text","font":"DejaVu Sans","fontSize":26,"color":"#cfcfcf"},"encoding":{"text":{"field":"t"}}}
]}
]}
